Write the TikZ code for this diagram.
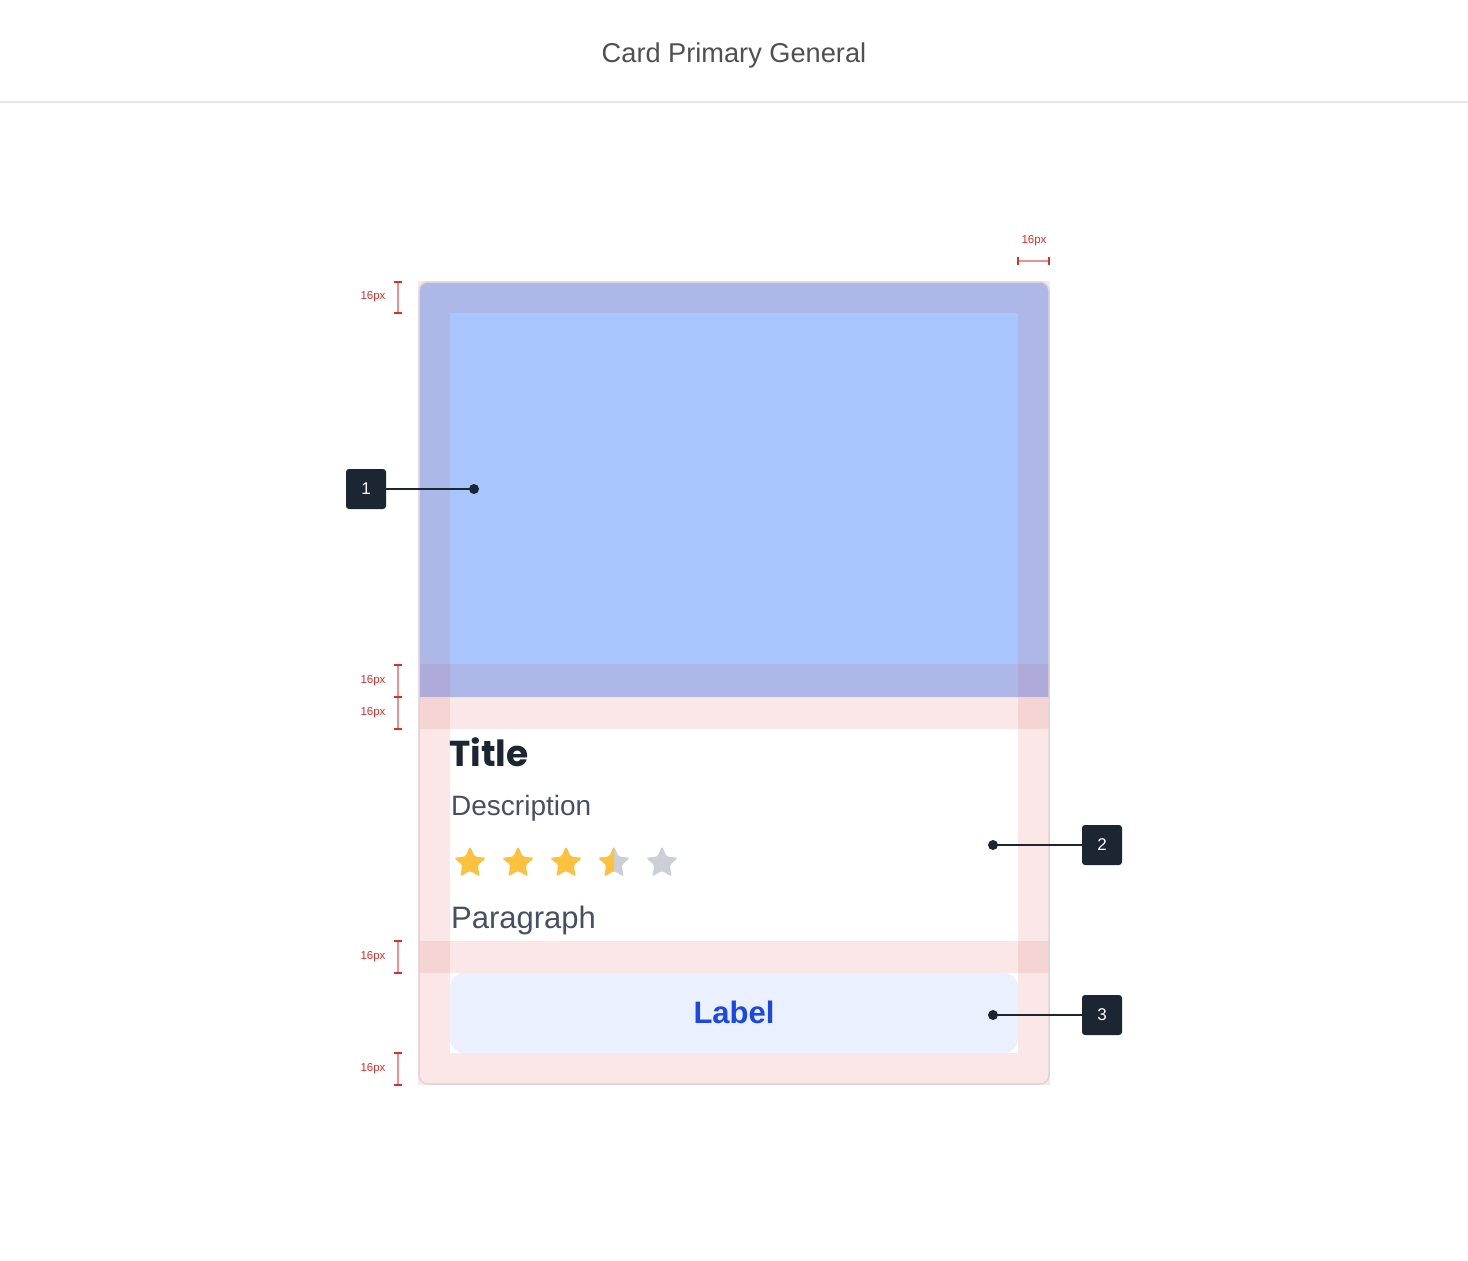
\documentclass[tikz,border=0pt]{standalone}
\usepackage{fontspec}
\setmainfont{Liberation Sans}
\newfontfamily\titlefam{Poppins}
\usetikzlibrary{calc}
\definecolor{pinkov}{HTML}{FBE7E7}
\definecolor{pinkdk}{HTML}{F5D4D4}
\definecolor{blueout}{HTML}{ADB7E8}
\definecolor{bluein}{HTML}{A8C5FD}
\definecolor{bluecorner}{HTML}{AEAAD9}
\definecolor{cardline}{HTML}{E2D3D7}
\definecolor{darkbox}{HTML}{1C2632}
\definecolor{desc}{HTML}{465064}
\definecolor{btnbg}{HTML}{EAF0FE}
\definecolor{btntext}{HTML}{1A47E6}
\definecolor{staryel}{HTML}{FEC13D}
\definecolor{stargray}{HTML}{CBD0D8}
\definecolor{redcap}{HTML}{D9302C}
\definecolor{redline}{HTML}{EE9090}
\definecolor{headtxt}{HTML}{505050}
\definecolor{headrule}{HTML}{E6E6E6}
\tikzset{
  callout/.style={fill=darkbox, rounded corners=3pt, minimum width=40pt, minimum height=40pt, inner sep=0pt, text=white, font=\fontsize{17}{17}\selectfont},
  dot/.style={circle, fill=darkbox, minimum size=10pt, inner sep=0pt},
  leader/.style={draw=darkbox, line width=2pt},
  dimlabel/.style={text=redcap, font=\fontsize{11.5}{12}\selectfont, inner sep=0pt},
  starshape/.pic={\path[pic actions, rounded corners=2.5pt] (-90:17) -- (-54:7.8) -- (-18:17) -- (18:7.8) -- (54:17) -- (90:7.8) -- (126:17) -- (162:7.8) -- (198:17) -- (234:7.8) -- cycle;}
}
\newcommand{\vdim}[3]{% x, y1, y2
  \draw[redline, line width=2pt] (#1,#2) -- (#1,#3);
  \draw[redcap, line width=1.5pt] (#1-4,#2) -- (#1+4,#2) (#1-4,#3) -- (#1+4,#3);
}
\begin{document}
\begin{tikzpicture}[x=1pt,y=-1pt]
\useasboundingbox (0,0) rectangle (1468,1261);
\fill[white] (0,0) rectangle (1468,1261);
% header
\node[text=headtxt, font=\fontsize{27.2}{28}\selectfont, anchor=base] (head) at (734,62) {Card Primary General};
\draw[headrule, line width=2pt] (0,102) -- (1468,102);
% card base
\fill[pinkov] (418,281) rectangle (1050,1085);
% image area
\fill[blueout, rounded corners=9pt] (419,282) -- (1049,282) -- (1049,697) -- (419,697) -- cycle;
\fill[blueout] (419,600) rectangle (1049,697);
\fill[bluein] (450,313) rectangle (1018,664);
\fill[bluecorner] (419,664) rectangle (450,697);
\fill[bluecorner] (1018,664) rectangle (1049,697);
% content area
\fill[white] (450,729) rectangle (1018,941);
\fill[pinkdk] (419,697) rectangle (450,729);
\fill[pinkdk] (1018,697) rectangle (1049,729);
\fill[pinkdk] (419,941) rectangle (450,973);
\fill[pinkdk] (1018,941) rectangle (1049,973);
% button area
\fill[white] (450,973) rectangle (1018,1053);
\fill[btnbg, rounded corners=14pt] (450,973) rectangle (1018,1053);
% card outline
\draw[cardline, line width=1.5pt, rounded corners=9pt] (419,282) rectangle (1049,1084);
% texts
\node[anchor=base west, inner sep=0pt, text=darkbox, font=\titlefam\bfseries\fontsize{36}{36}\selectfont] (title) at (449,766) {Title};
\node[anchor=base west, inner sep=0pt, text=desc, font=\fontsize{28}{28}\selectfont] (description) at (451,815) {Description};
\node[anchor=base west, inner sep=0pt, text=desc, font=\fontsize{31}{31}\selectfont] (paragraph) at (451,928) {Paragraph};
\node[anchor=base, inner sep=0pt, text=btntext, font=\bfseries\fontsize{31}{31}\selectfont] (label) at (734,1023) {Label};
% stars
\pic[fill=staryel] at (470,863) {starshape};
\pic[fill=staryel] at (518,863) {starshape};
\pic[fill=staryel] at (566,863) {starshape};
\pic[fill=stargray] at (614,863) {starshape};
\begin{scope}
\clip (594,840) rectangle (614,890);
\pic[fill=staryel] at (614,863) {starshape};
\end{scope}
\pic[fill=stargray] at (662,863) {starshape};
% callouts
\node[callout] (c1) at (366,489) {1};
\node[dot] (d1) at (474,489) {};
\draw[leader] (c1.east) -- (d1.center);
\node[callout] (c2) at (1102,845) {2};
\node[dot] (d2) at (993,845) {};
\draw[leader] (c2.west) -- (d2.center);
\node[callout] (c3) at (1102,1015) {3};
\node[dot] (d3) at (993,1015) {};
\draw[leader] (c3.west) -- (d3.center);
% dimension markers
\vdim{398}{282}{313}
\node[dimlabel] (l1) at (373,297) {16px};
\vdim{398}{665}{697}
\node[dimlabel] (l2) at (373,681) {16px};
\vdim{398}{697}{729}
\node[dimlabel] (l3) at (373,713) {16px};
\vdim{398}{941}{973}
\node[dimlabel] (l4) at (373,957) {16px};
\vdim{398}{1053}{1085}
\node[dimlabel] (l5) at (373,1069) {16px};
\draw[redline, line width=2pt] (1018,261) -- (1049,261);
\draw[redcap, line width=1.5pt] (1018,257) -- (1018,265) (1049,257) -- (1049,265);
\node[dimlabel] (l6) at (1034,241) {16px};
\end{tikzpicture}
\end{document}
